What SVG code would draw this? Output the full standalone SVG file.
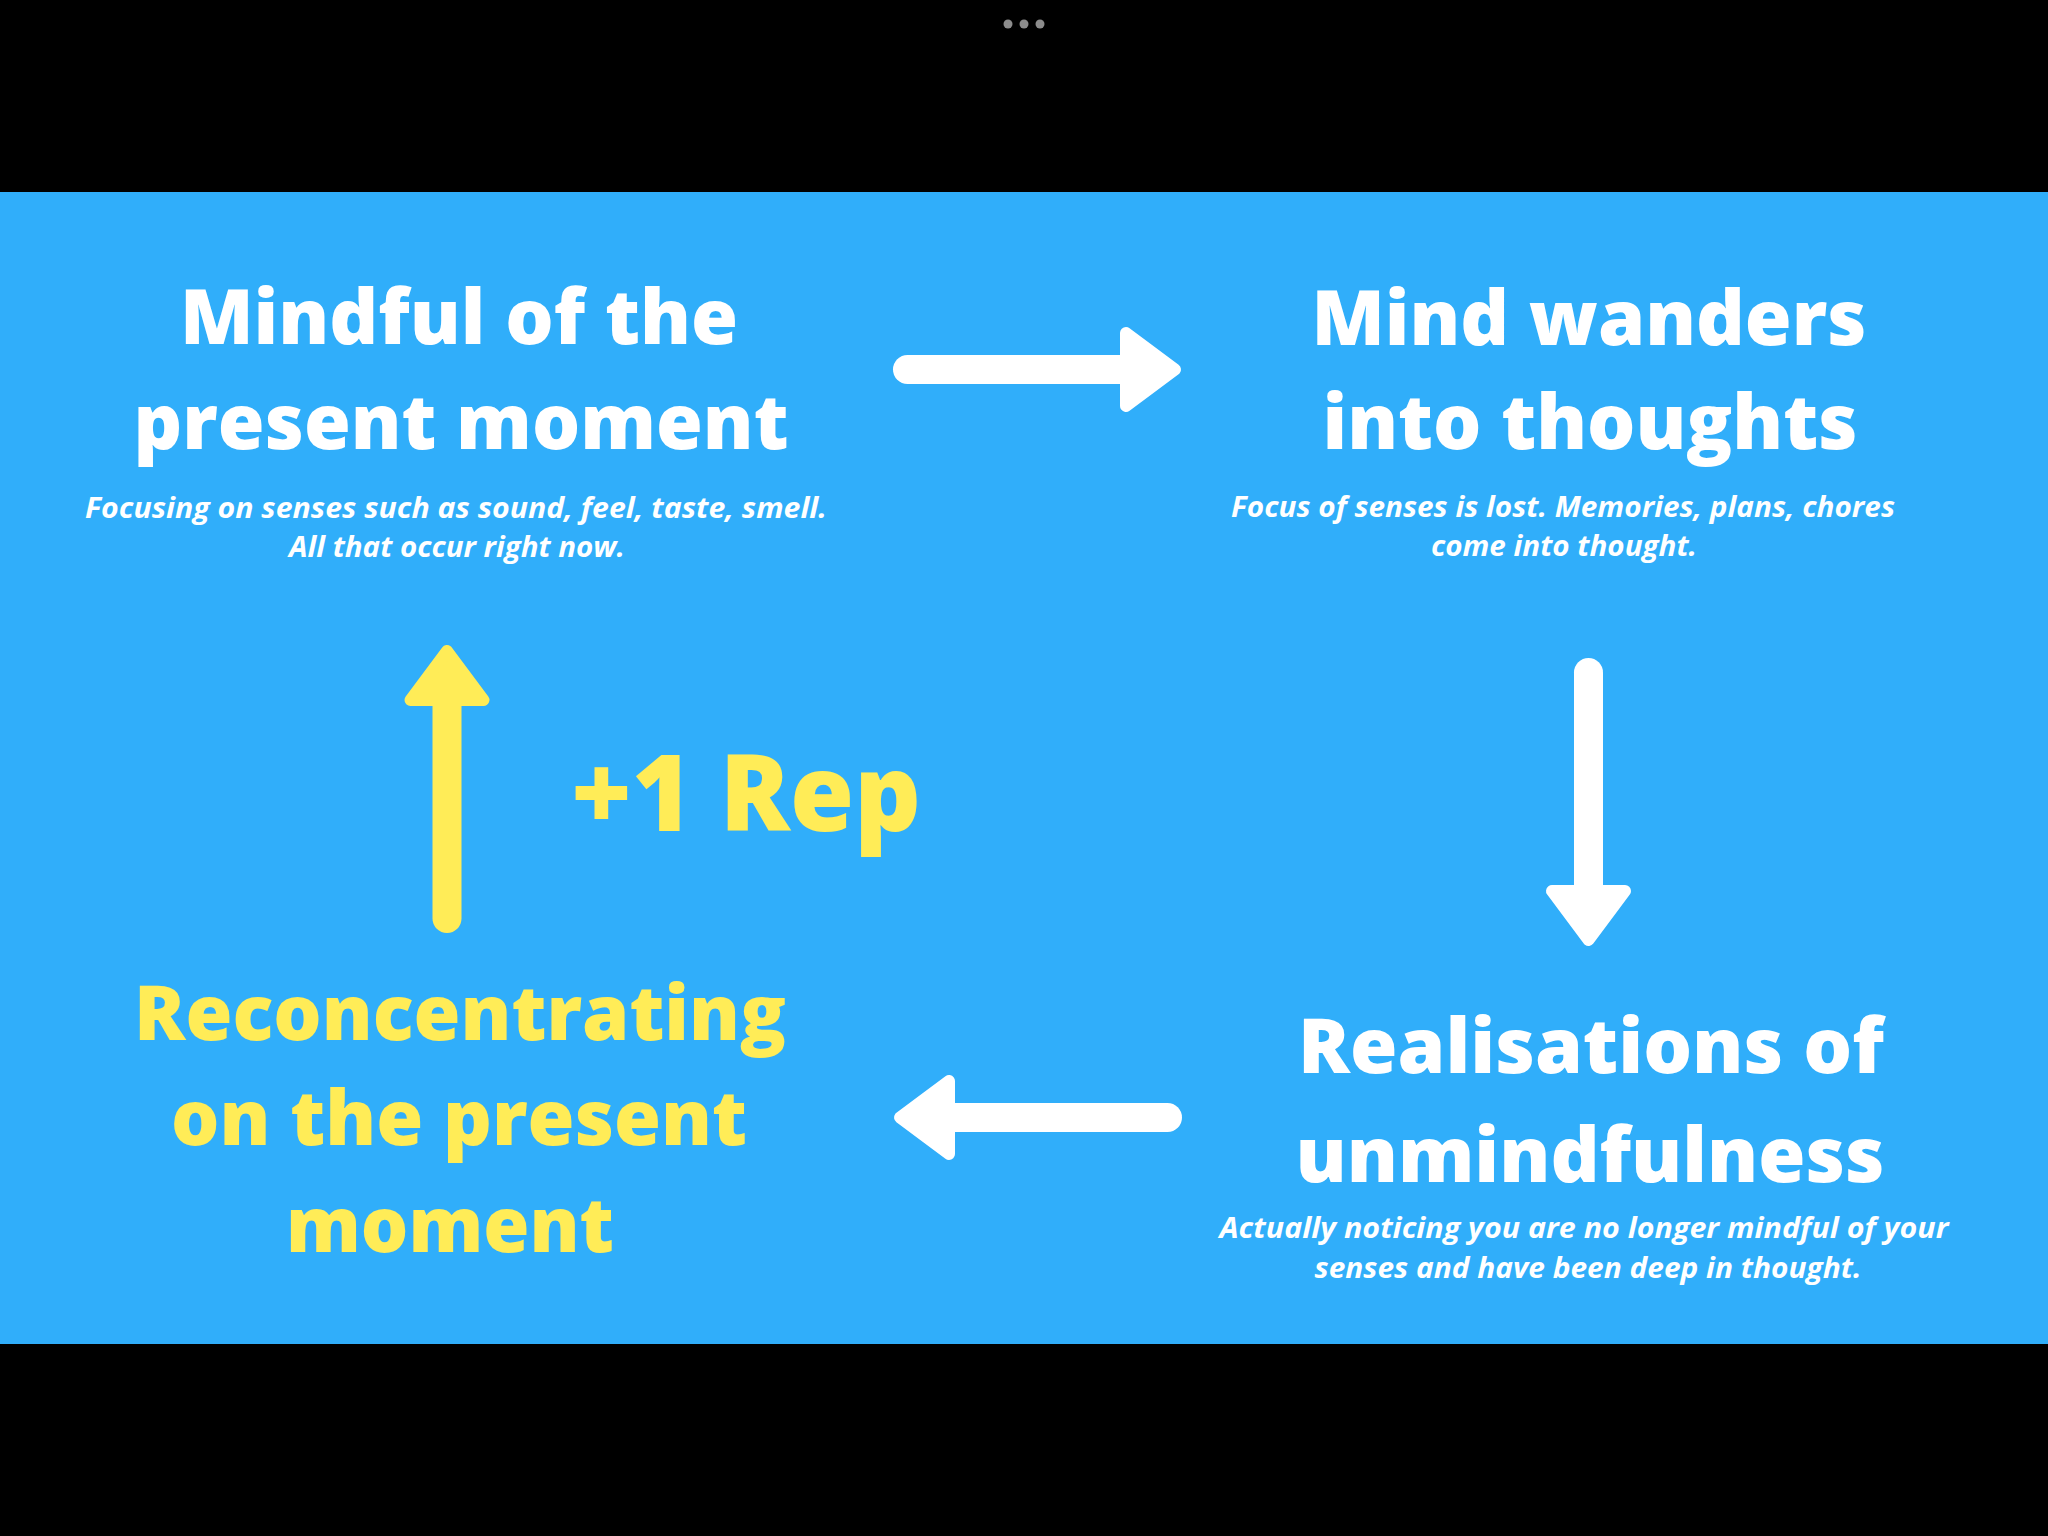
<svg xmlns="http://www.w3.org/2000/svg" xmlns:xlink="http://www.w3.org/1999/xlink" width="2048" height="1536" viewBox="0 0 2048 1536">
  <style>
    .title { font-family: "Open Sans", "Liberation Sans", sans-serif; font-weight: 800; font-size: 76px; text-anchor: middle; }
    .rep { font-size: 106px; }
    .white { fill: #ffffff; }
    .yellow { fill: #FFEC57; }
    .sub { font-family: "Open Sans", "Liberation Sans", sans-serif; font-weight: 700; font-style: italic; font-size: 29px; fill: #ffffff; text-anchor: middle; }
  </style>
  <defs>
    <g id="arrow">
      <line x1="14.5" y1="0" x2="236" y2="0" stroke="currentColor" stroke-width="29" stroke-linecap="round"/>
      <polygon points="233,-36.5 282,0 233,36.5" fill="currentColor" stroke="currentColor" stroke-width="12" stroke-linejoin="round"/>
    </g>
  </defs>
  <rect x="0" y="0" width="2048" height="1536" fill="#000000"/>
  <g id="dots" fill="#8c8c8c">
    <circle cx="1008" cy="24" r="4.5"/>
    <circle cx="1024" cy="24" r="4.5"/>
    <circle cx="1040" cy="24" r="4.5"/>
  </g>
  <rect x="0" y="192" width="2048" height="1152" fill="#30AEFA"/>

  <g id="node-mindful">
    <text class="title white" x="459" y="344" textLength="558" lengthAdjust="spacingAndGlyphs">Mindful of the</text>
    <text class="title white" x="461" y="449" textLength="655" lengthAdjust="spacingAndGlyphs">present moment</text>
    <text class="sub" x="456" y="518" textLength="742" lengthAdjust="spacingAndGlyphs">Focusing on senses such as sound, feel, taste, smell.</text>
    <text class="sub" x="457" y="557" textLength="336" lengthAdjust="spacingAndGlyphs">All that occur right now.</text>
  </g>

  <g id="node-wanders">
    <text class="title white" x="1589" y="345" textLength="555" lengthAdjust="spacingAndGlyphs">Mind wanders</text>
    <text class="title white" x="1590" y="449" textLength="535" lengthAdjust="spacingAndGlyphs">into thoughts</text>
    <text class="sub" x="1563" y="517" textLength="664" lengthAdjust="spacingAndGlyphs">Focus of senses is lost. Memories, plans, chores</text>
    <text class="sub" x="1564" y="556" textLength="266" lengthAdjust="spacingAndGlyphs">come into thought.</text>
  </g>

  <g id="node-realisations">
    <text class="title white" x="1591" y="1073" textLength="586" lengthAdjust="spacingAndGlyphs">Realisations of</text>
    <text class="title white" x="1590" y="1182" textLength="589" lengthAdjust="spacingAndGlyphs">unmindfulness</text>
    <text class="sub" x="1584" y="1238" textLength="729" lengthAdjust="spacingAndGlyphs">Actually noticing you are no longer mindful of your</text>
    <text class="sub" x="1588" y="1278" textLength="547" lengthAdjust="spacingAndGlyphs">senses and have been deep in thought.</text>
  </g>

  <g id="node-reconcentrating">
    <text class="title yellow" x="460" y="1040" textLength="652" lengthAdjust="spacingAndGlyphs">Reconcentrating</text>
    <text class="title yellow" x="459" y="1145" textLength="576" lengthAdjust="spacingAndGlyphs">on the present</text>
    <text class="title yellow" x="450" y="1252" textLength="328" lengthAdjust="spacingAndGlyphs">moment</text>
  </g>

  <g id="label-rep">
    <text class="title rep yellow" x="746" y="831" textLength="350" lengthAdjust="spacingAndGlyphs">+1 Rep</text>
  </g>

  <g id="connectors">
    <use xlink:href="#arrow" href="#arrow" transform="translate(893,369.5)" color="#ffffff"/>
    <use xlink:href="#arrow" href="#arrow" transform="translate(1588.5,658) rotate(90)" color="#ffffff"/>
    <use xlink:href="#arrow" href="#arrow" transform="translate(1182,1117.5) rotate(180)" color="#ffffff"/>
    <use xlink:href="#arrow" href="#arrow" transform="translate(447,933) rotate(-90)" color="#FFEC57"/>
  </g>
</svg>
